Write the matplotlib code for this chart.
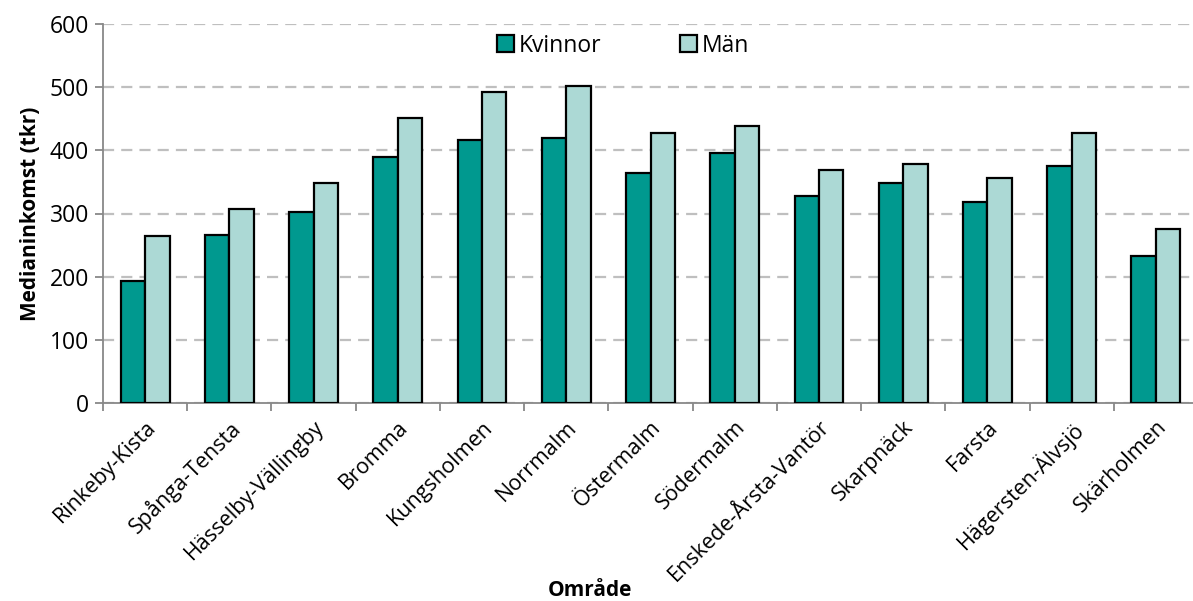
import numpy as np
import matplotlib.pyplot as plt

plt.rcParams['font.family'] = ['Open Sans', 'DejaVu Sans']

# data
omraden = ['Rinkeby-Kista', 'Spånga-Tensta', 'Hässelby-Vällingby', 'Bromma',
           'Kungsholmen', 'Norrmalm', 'Östermalm', 'Södermalm',
           'Enskede-Årsta-Vantör', 'Skarpnäck', 'Farsta', 'Hägersten-Älvsjö',
           'Skärholmen']
kvinnor = [193, 266, 302, 390, 417, 419, 364, 396, 327, 349, 319, 376, 232]
man = [264, 307, 349, 451, 492, 502, 427, 439, 369, 378, 357, 427, 276]
yticks = [0, 100, 200, 300, 400, 500, 600]

c_k = '#00998f'
c_m = '#acd9d5'

fig = plt.figure(figsize=(11.93, 6.01), dpi=100)
ax = fig.add_axes([103 / 1193, 1 - 402.7 / 601, 1095 / 1193, (402.7 - 24.3) / 601])

x = np.arange(len(omraden))
w = 0.29
ax.bar(x - w / 2, kvinnor, w, color=c_k, edgecolor='black', linewidth=1.6,
       label='Kvinnor', zorder=3)
ax.bar(x + w / 2, man, w, color=c_m, edgecolor='black', linewidth=1.6,
       label='Män', zorder=3)

ax.set_xlim(-0.5, len(omraden) - 0.5)
ax.set_ylim(0, 600)
ax.set_yticks(yticks)
ax.yaxis.grid(True, linestyle=(0, (5, 3.2)), color='#bfbfbf', linewidth=1.6, zorder=0)

# ticks between categories, labels at centres
ax.set_xticks(np.arange(len(omraden) + 1) - 0.5)
ax.set_xticklabels([])
ax.set_xticks(x, minor=True)
ax.set_xticklabels(omraden, minor=True, rotation=45, ha='right',
                   rotation_mode='anchor', fontsize=15.5)
ax.tick_params(axis='x', which='minor', length=0, pad=10)
ax.tick_params(axis='x', which='major', length=6, color='#888888', width=1.3)
ax.tick_params(axis='y', length=6, color='#888888', width=1.3, labelsize=16.5, pad=4)

for s in ['top', 'right']:
    ax.spines[s].set_visible(False)
for s in ['left', 'bottom']:
    ax.spines[s].set_color('#888888')
    ax.spines[s].set_linewidth(1.3)

ax.set_ylabel('Medianinkomst (tkr)', fontsize=15, fontweight='bold', labelpad=6)
fig.text(590 / 1193, 1 - 591 / 601, 'Område', fontsize=15, fontweight='bold',
         ha='center', va='center')

leg = ax.legend(loc='center', bbox_to_anchor=(0.475, 0.943), ncol=2,
                frameon=False, fontsize=16.5, handlelength=0.75, handleheight=0.75,
                handletextpad=0.2, columnspacing=3.45)

fig.savefig('out.png', dpi=100)
